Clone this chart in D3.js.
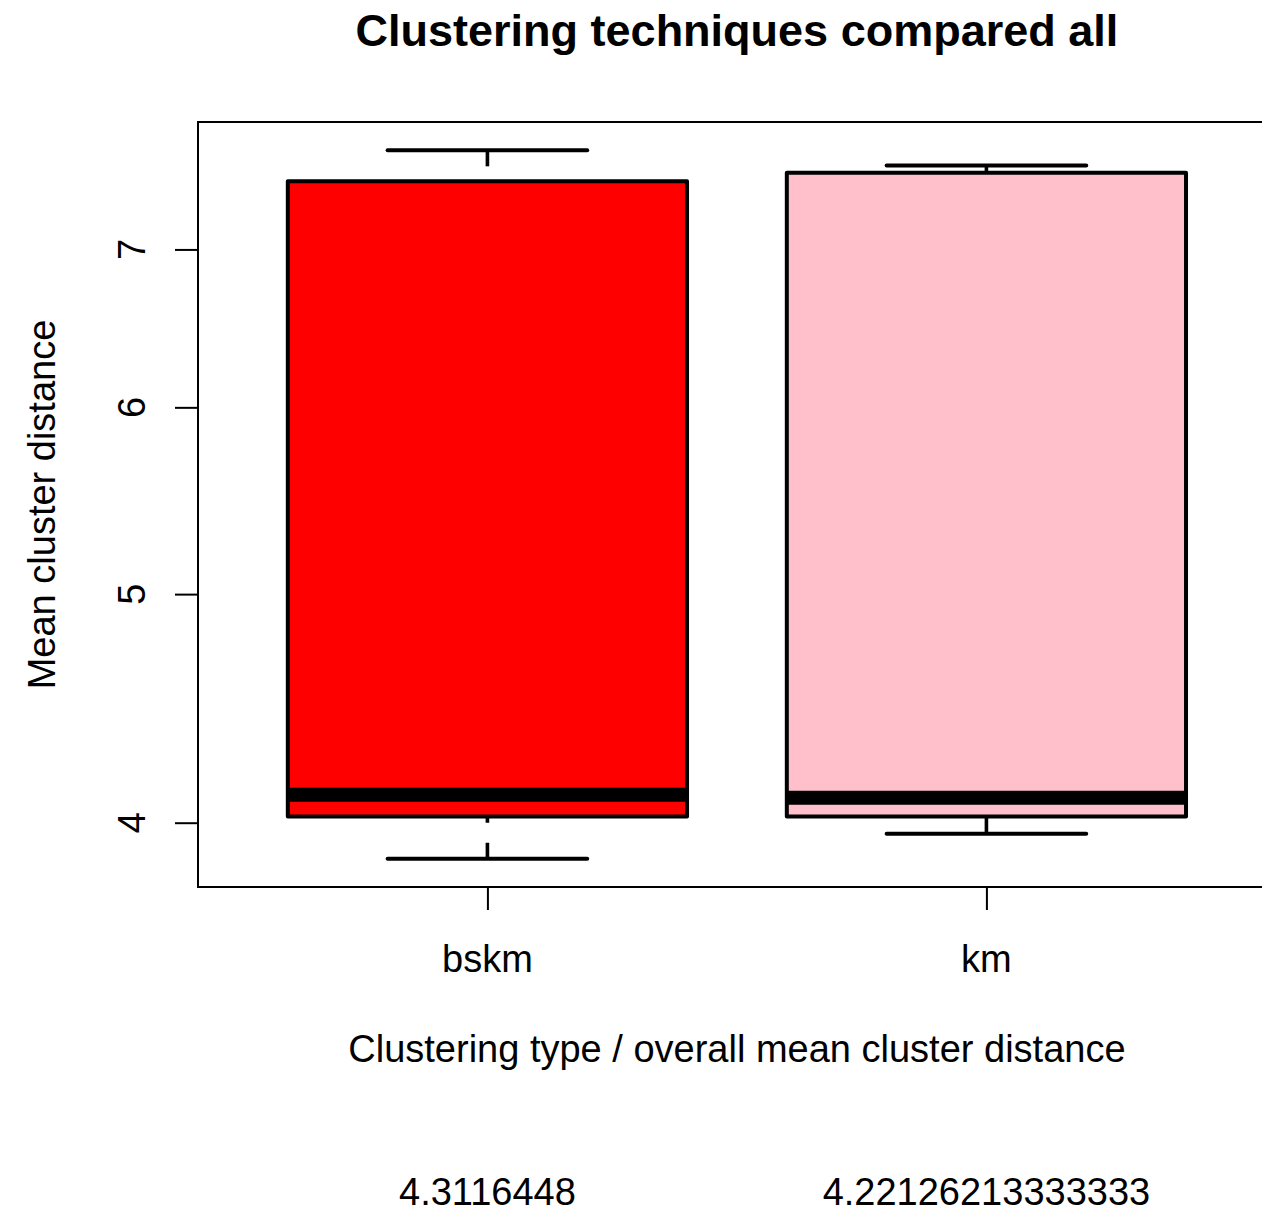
<!DOCTYPE html>
<html>
<head>
<meta charset="utf-8">
<script src="https://cdn.jsdelivr.net/npm/d3@7"></script>
<style>
  html, body { margin: 0; padding: 0; background: #fff; }
  svg { display: block; }
  text { font-family: "Liberation Sans", Arial, Helvetica, sans-serif; fill: #000; }
</style>
</head>
<body>
<svg id="chart" width="1262" height="1212"></svg>
<script>
// ---- data ----
const categories = ["bskm", "km"];
const lowerWhisker = [3.862, 3.957];
const lowerHinge   = [4.024, 4.024];
const medians      = [4.111, 4.099];
const upperHinge   = [7.481, 7.545];
const upperWhisker = [7.711, 7.598];
const fills        = ["#ff0000", "#ffc0cb"];
const overallMeans = ["4.3116448", "4.22126213333333"];
const yTicks       = [4, 5, 6, 7];
const titleText = "Clustering techniques compared all";
const xLabel = "Clustering type / overall mean cluster distance";
const yLabel = "Mean cluster distance";

// ---- layout ----
const svg = d3.select("#chart");
const plot = { left: 198, top: 122, bottom: 887 };

// R-style x: positions 1..n, xlim 0.5..n+0.5 extended by 4%
const n = categories.length;
const xr = [0.5 - 0.04 * n, n + 0.5 + 0.04 * n];
const unit = 499;
plot.right = plot.left + (xr[1] - xr[0]) * unit;
const x = d3.scaleLinear().domain(xr).range([plot.left, plot.right]);

// log y scale with 4% extension in log space
const lmin = Math.log(d3.min(lowerWhisker)), lmax = Math.log(d3.max(upperWhisker));
const ext = (lmax - lmin) * 0.04;
const y = d3.scaleLog().domain([Math.exp(lmin - ext), Math.exp(lmax + ext)]).range([plot.bottom, plot.top]);

const boxHalf = 0.4, capHalf = 0.2;

const g = svg.append("g");

categories.forEach((c, i) => {
  const cx = x(i + 1);
  // whiskers (dashed, drawn from whisker end toward hinge)
  g.append("line").attr("x1", cx).attr("x2", cx)
    .attr("y1", y(upperWhisker[i])).attr("y2", y(upperHinge[i]))
    .attr("stroke", "#000").attr("stroke-width", 3.6).attr("stroke-dasharray", "16,20");
  g.append("line").attr("x1", cx).attr("x2", cx)
    .attr("y1", y(lowerWhisker[i])).attr("y2", y(lowerHinge[i]))
    .attr("stroke", "#000").attr("stroke-width", 3.6).attr("stroke-dasharray", "16,20");
  // caps
  [upperWhisker[i], lowerWhisker[i]].forEach(v => {
    g.append("line").attr("x1", x(i + 1 - capHalf)).attr("x2", x(i + 1 + capHalf))
      .attr("y1", y(v)).attr("y2", y(v))
      .attr("stroke", "#000").attr("stroke-width", 4).attr("stroke-linecap", "round");
  });
  // box
  g.append("rect")
    .attr("x", x(i + 1 - boxHalf)).attr("width", x(i + 1 + boxHalf) - x(i + 1 - boxHalf))
    .attr("y", y(upperHinge[i])).attr("height", y(lowerHinge[i]) - y(upperHinge[i]))
    .attr("fill", fills[i]).attr("stroke", "#000").attr("stroke-width", 4)
    .attr("stroke-linejoin", "round");
  // median
  g.append("line").attr("x1", x(i + 1 - boxHalf)).attr("x2", x(i + 1 + boxHalf))
    .attr("y1", y(medians[i])).attr("y2", y(medians[i]))
    .attr("stroke", "#000").attr("stroke-width", 14);
});

// frame
g.append("rect").attr("x", plot.left).attr("y", plot.top)
  .attr("width", plot.right - plot.left).attr("height", plot.bottom - plot.top)
  .attr("fill", "none").attr("stroke", "#000").attr("stroke-width", 2);

// y axis
const yAxis = d3.axisLeft(y).tickValues(yTicks).tickSize(23).tickPadding(0).tickFormat(d3.format("d"));
const ya = svg.append("g").attr("transform", `translate(${plot.left},0)`).call(yAxis);
ya.select(".domain").remove();
ya.selectAll(".tick line").attr("stroke", "#000").attr("stroke-width", 2);
ya.selectAll(".tick text").remove();
yTicks.forEach(v => {
  svg.append("text").attr("transform", `translate(145,${y(v)}) rotate(-90)`)
    .attr("text-anchor", "middle").attr("font-size", 38).text(v);
});

// x axis
const xAxis = d3.axisBottom(x).tickValues(categories.map((c, i) => i + 1)).tickSize(23).tickFormat(() => "");
const xa = svg.append("g").attr("transform", `translate(0,${plot.bottom})`).call(xAxis);
xa.select(".domain").remove();
xa.selectAll(".tick line").attr("stroke", "#000").attr("stroke-width", 2);
xa.selectAll(".tick text").remove();
categories.forEach((c, i) => {
  svg.append("text").attr("x", x(i + 1)).attr("y", 972)
    .attr("text-anchor", "middle").attr("font-size", 38).text(c);
  svg.append("text").attr("x", x(i + 1)).attr("y", 1205)
    .attr("text-anchor", "middle").attr("font-size", 38).text(overallMeans[i]);
});

// labels
svg.append("text").attr("x", (plot.left + plot.right) / 2).attr("y", 46)
  .attr("text-anchor", "middle").attr("font-size", 45).attr("font-weight", "bold").text(titleText);
svg.append("text").attr("x", (plot.left + plot.right) / 2).attr("y", 1062)
  .attr("text-anchor", "middle").attr("font-size", 38).text(xLabel);
svg.append("text").attr("transform", `translate(55,${(plot.top + plot.bottom) / 2}) rotate(-90)`)
  .attr("text-anchor", "middle").attr("font-size", 38).text(yLabel);
</script>
</body>
</html>
